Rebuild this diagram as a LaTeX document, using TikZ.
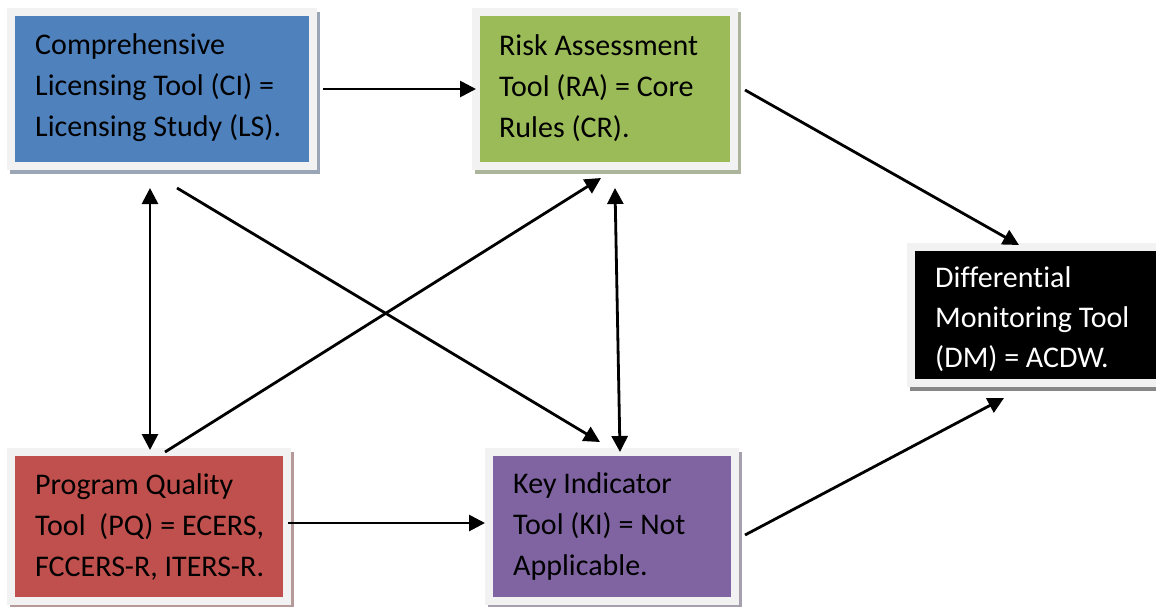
\documentclass[tikz,border=0pt]{standalone}
\usepackage{fontspec}
\setmainfont{Carlito}[Ligatures=NoCommon]
\usetikzlibrary{arrows.meta}
\definecolor{ciblue}{HTML}{4F81BD}
\definecolor{ragreen}{HTML}{9BBB59}
\definecolor{pqred}{HTML}{C0504D}
\definecolor{kipurple}{HTML}{8064A2}
\definecolor{framegray}{HTML}{F2F2F2}
\tikzset{
  toolbox/.style={rectangle, draw=framegray, line width=8pt, fill=#1, inner sep=0pt, outer sep=0pt,
    preaction={draw=#1!35!gray!70!white, fill=#1!35!gray!70!white, line width=8pt,
      transform canvas={shift={(3pt,-4pt)}}}},
  tooltext/.style={anchor=west, align=left, inner sep=0pt, font=\fontsize{30pt}{41pt}\selectfont},
  conn/.style={line width=2.8pt, -{Triangle[length=16pt,width=16pt]}},
  dconn/.style={line width=2.8pt, {Triangle[length=16pt,width=16pt]}-{Triangle[length=16pt,width=16pt]}}
}
\begin{document}
\begin{tikzpicture}[x=1pt, y=-1pt]
\fill[white] (0,0) rectangle (1156,606);
\useasboundingbox (0,0) rectangle (1156,606);
% boxes
\node[toolbox=ciblue, minimum width=302pt, minimum height=154pt] (CI) at (162,89) {};
\node[toolbox=ragreen, minimum width=258pt, minimum height=154pt] (RA) at (605,89) {};
\node[toolbox=black, minimum width=249pt, minimum height=136.5pt] (DM) at (1035.5,314.75) {};
\node[toolbox=pqred, minimum width=276pt, minimum height=149pt] (PQ) at (149,526.5) {};
\node[toolbox=kipurple, minimum width=245.5pt, minimum height=149pt] (KI) at (611.75,526.5) {};
% texts
\node[tooltext] (CIt) at ([xshift=24pt,yshift=1pt]CI.west) {Comprehensive\\Licensing Tool (CI) =\\Licensing Study (LS).};
\node[tooltext] (RAt) at ([xshift=23pt,yshift=1pt]RA.west) {Risk Assessment\\Tool (RA) = Core\\Rules (CR).};
\node[tooltext, text=white, font=\fontsize{30pt}{40pt}\selectfont] (DMt) at ([xshift=24pt,yshift=-4pt]DM.west) {Differential\\Monitoring Tool\\(DM) = ACDW.};
\node[tooltext] (PQt) at ([xshift=24pt]PQ.west) {Program Quality\\Tool~~(PQ) = ECERS,\\FCCERS-R, ITERS-R.};
\node[tooltext] (KIt) at ([xshift=24pt]KI.west) {Key Indicator\\Tool (KI) = Not\\Applicable.};
% connectors
\draw[conn, shorten <=10pt] (CI.east) -- (RA.west);
\draw[conn] ([shift={(11,1)}]RA.east) -- ([shift={(-16.5,-1.5)}]DM.north);
\draw[conn] ([shift={(10.5,8.5)}]KI.east) -- ([shift={(-31.5,15)}]DM.south);
\draw[conn] ([shift={(1,-3.5)}]PQ.east) -- ([shift={(-4,-3.5)}]KI.west);
\draw[dconn] ([shift={(-12,22)}]CI.south) -- ([shift={(1,-2)}]PQ.north);
\draw[dconn] ([shift={(10,22)}]RA.south) -- ([shift={(8.25,0)}]KI.north);
\draw[conn] ([shift={(15,22)}]CI.south) -- ([shift={(-11.75,-10)}]KI.north);
\draw[conn] ([shift={(16,0)}]PQ.north) -- ([shift={(-4,12)}]RA.south);
\end{tikzpicture}
\end{document}
